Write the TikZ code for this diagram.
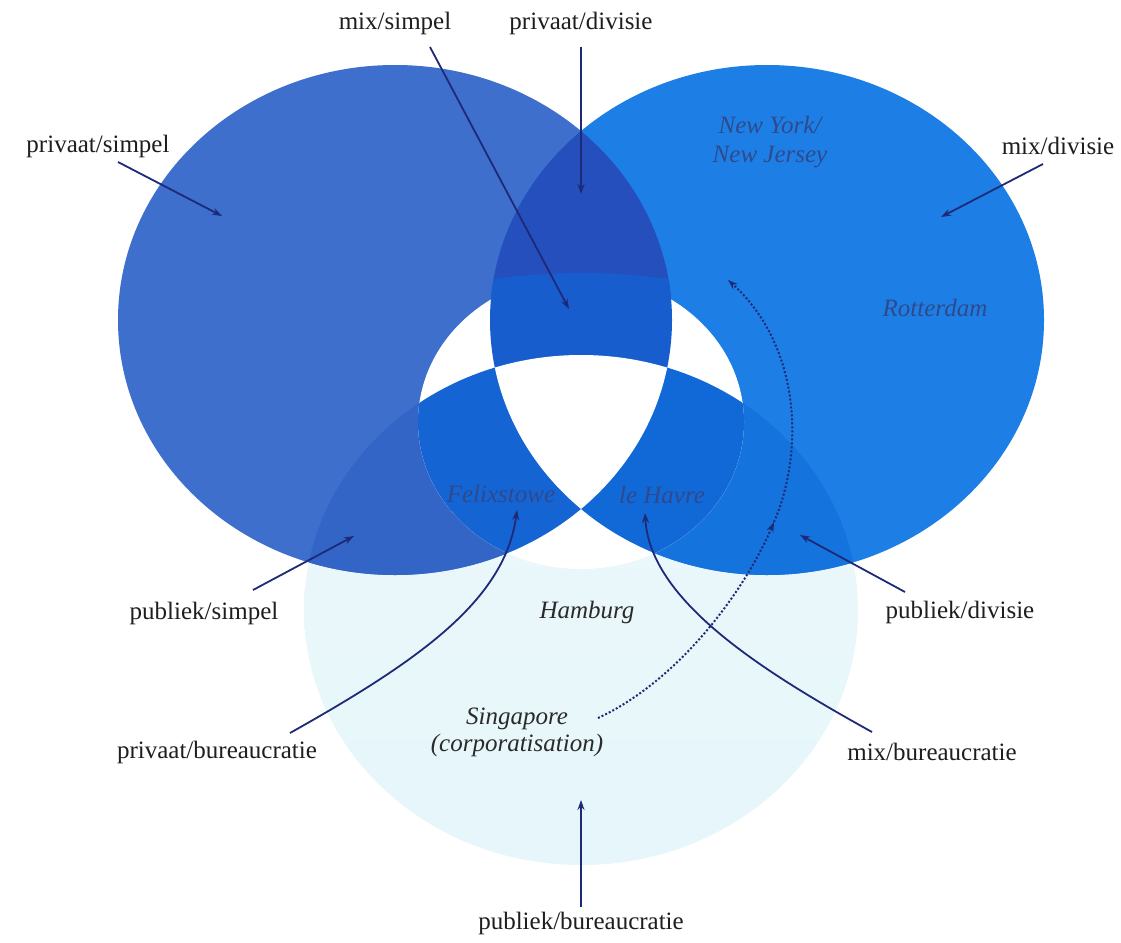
\documentclass[tikz,border=0pt]{standalone}
\usepackage{fontspec}
\setmainfont{Liberation Serif}
\usetikzlibrary{arrows.meta}

\definecolor{simpelblue}{HTML}{3E6FCD}
\definecolor{divisieblue}{HTML}{1D7FE5}
\definecolor{lensdark}{HTML}{244FBD}
\definecolor{lensmix}{HTML}{175DCE}
\definecolor{pubsimpel}{HTML}{3365C6}
\definecolor{pubdivisie}{HTML}{1573DD}
\definecolor{lobeleft}{HTML}{1564D3}
\definecolor{loberight}{HTML}{1169D8}
\definecolor{burtop}{HTML}{ECF8FB}
\definecolor{burmid}{HTML}{CDEDF5}
\definecolor{burbottom}{HTML}{E6F6FA}
\definecolor{pointerblue}{HTML}{1E2A78}
\definecolor{labeltext}{HTML}{1E1E1E}
\definecolor{insidetext}{HTML}{2E4A8C}
\definecolor{porttext}{HTML}{2A2A2A}

% the three structure ellipses, the inner core and the arc splitting the top lens
\def\shapeSimpel{(395,320) ellipse [x radius=277pt, y radius=255pt]}
\def\shapeDivisie{(767,320) ellipse [x radius=277pt, y radius=255pt]}
\def\shapeBureau{(581,610) ellipse [x radius=277pt, y radius=255pt]}
\def\shapeCore{(581,422) ellipse [x radius=163pt, y radius=147pt]}
\def\shapeMix{(581,900) circle [radius=627pt]}

\begin{document}
\begin{tikzpicture}[x=1pt,y=-1pt,
  lbl/.style={font=\fontsize{25}{28}\selectfont, text=labeltext, inner sep=1pt},
  inside/.style={font=\fontsize{25}{29}\selectfont\itshape, text=insidetext, inner sep=1pt, align=center},
  port/.style={font=\fontsize{25}{27}\selectfont\itshape, text=porttext, inner sep=1pt, align=center},
  pointer/.style={draw=pointerblue, line width=1.8pt, -{Stealth[length=10pt,width=7pt]}},
  dotpointer/.style={draw=pointerblue, line width=2pt, dash pattern=on 2pt off 2pt,
    -{Stealth[length=10pt,width=7pt]}}
]
\fill[white] (0,0) rectangle (1121,942);
\useasboundingbox (0,0) rectangle (1121,942);

% bureaucratie: pale cyan field
\begin{scope}
  \clip \shapeBureau;
  \shade[top color=burtop, middle color=burmid, bottom color=burbottom] (300,355) rectangle (862,866);
\end{scope}

% simpel and divisie
\fill[simpelblue] \shapeSimpel;
\fill[divisieblue] \shapeDivisie;

% simpel & divisie lens
\begin{scope}
  \clip \shapeSimpel;
  \fill[lensdark] \shapeDivisie;
\end{scope}

% overlaps with bureaucratie
\begin{scope}
  \clip \shapeSimpel;
  \fill[pubsimpel] \shapeBureau;
\end{scope}
\begin{scope}
  \clip \shapeDivisie;
  \fill[pubdivisie] \shapeBureau;
\end{scope}

% inner core
\fill[white] \shapeCore;

\begin{scope}
  \clip \shapeSimpel;
  \clip \shapeDivisie;
  \fill[lensmix] \shapeMix;
\end{scope}

\begin{scope}
  \clip \shapeCore;
  \clip \shapeSimpel;
  \fill[lobeleft] \shapeBureau;
\end{scope}
\begin{scope}
  \clip \shapeCore;
  \clip \shapeDivisie;
  \fill[loberight] \shapeBureau;
\end{scope}

% centre where all three meet
\begin{scope}
  \clip \shapeSimpel;
  \clip \shapeDivisie;
  \fill[white] \shapeBureau;
\end{scope}

% ports inside the regions
\node[inside] (nynj) at (770,142) {New York/\\New Jersey};
\node[inside] (rdam) at (935,308) {Rotterdam};
\node[inside] (fxt) at (501,494) {Felixstowe};
\node[inside] (lhv) at (662,495) {le Havre};
\node[port] (hbg) at (587,612) {Hamburg};
\node[port] (sgp) at (517,732) {Singapore\\(corporatisation)};

% outer labels
\node[lbl] (lPS) at (98,146) {privaat/simpel};
\node[lbl] (lMS) at (395,23) {mix/simpel};
\node[lbl] (lPD) at (581,23) {privaat/divisie};
\node[lbl] (lMD) at (1058,146) {mix/divisie};
\node[lbl] (lPubS) at (204,613) {publiek/simpel};
\node[lbl] (lPubD) at (960,612) {publiek/divisie};
\node[lbl] (lPB) at (217,752) {privaat/bureaucratie};
\node[lbl] (lMB) at (932,752) {mix/bureaucratie};
\node[lbl] (lPubB) at (581,923) {publiek/bureaucratie};

% pointer ends
\coordinate (psFrom) at (118,162);   \coordinate (psTo) at (222,216);
\coordinate (msFrom) at (430,47);    \coordinate (msTo) at (569,309);
\coordinate (pdFrom) at (581,47);    \coordinate (pdTo) at (581,194);
\coordinate (mdFrom) at (1043,164);  \coordinate (mdTo) at (941,217);
\coordinate (pubsFrom) at (253,590); \coordinate (pubsTo) at (354,536);
\coordinate (pubdFrom) at (905,592); \coordinate (pubdTo) at (800,535);
\coordinate (pbFrom) at (290,733);   \coordinate (pbTo) at (517,510);
\coordinate (mbFrom) at (872,732);   \coordinate (mbTo) at (645,513);
\coordinate (pubbFrom) at (581,907); \coordinate (pubbTo) at (581,800);
\coordinate (sgFrom) at (598,718);   \coordinate (sgMid) at (774,522);
\coordinate (sgTo) at (728,280);

\draw[pointer] (psFrom) -- (psTo);
\draw[pointer] (msFrom) -- (msTo);
\draw[pointer] (pdFrom) -- (pdTo);
\draw[pointer] (mdFrom) -- (mdTo);
\draw[pointer] (pubsFrom) -- (pubsTo);
\draw[pointer] (pubdFrom) -- (pubdTo);
\draw[pointer] (pbFrom) .. controls (420,660) and (505,600) .. (pbTo);
\draw[pointer] (mbFrom) .. controls (760,670) and (650,600) .. (mbTo);
\draw[pointer] (pubbFrom) -- (pubbTo);
\draw[dotpointer] (sgFrom) .. controls (680,680) and (745,590) .. (sgMid);
\draw[dotpointer] (sgMid) .. controls (805,450) and (800,345) .. (sgTo);
\end{tikzpicture}
\end{document}
